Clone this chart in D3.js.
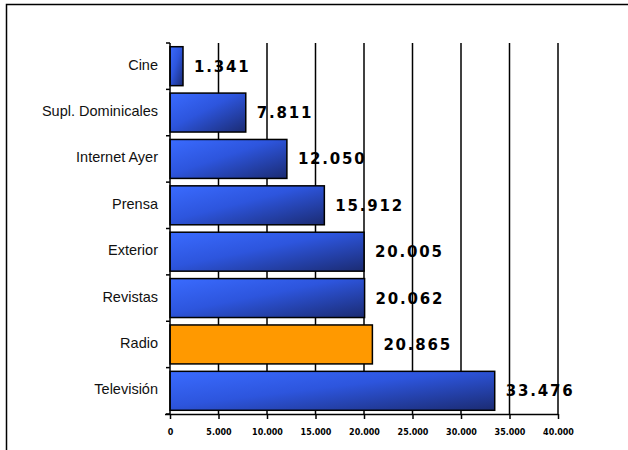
<!DOCTYPE html>
<html>
<head>
<meta charset="utf-8">
<script src="https://cdn.jsdelivr.net/npm/d3@7"></script>
<style>
  body { margin: 0; background: #fff; }
  svg { display: block; }
</style>
</head>
<body>
<svg id="chart" width="628" height="450"></svg>
<script>
// data
const categories = ["Cine", "Supl. Dominicales", "Internet Ayer", "Prensa", "Exterior", "Revistas", "Radio", "Televisión"]
const values = [1341, 7811, 12050, 15912, 20005, 20062, 20865, 33476]
const highlighted = ["Radio"]
const xTicks = [0, 5000, 10000, 15000, 20000, 25000, 30000, 35000, 40000]

const width = 628
const height = 450
const margin = { top: 43, left: 170, right: 70, bottom: 36 }

const svg = d3.select("#chart")

// outer frame (cut at the right and bottom like the original)
svg.append("rect")
	.attr("x", 6.5).attr("y", 4.5)
	.attr("width", 700).attr("height", 500)
	.style("fill", "none")
	.style("stroke", "#000")
	.style("stroke-width", 1.5)

const defs = svg.append("defs")
const grad = defs.append("linearGradient")
	.attr("id", "blue")
	.attr("x1", 0).attr("y1", 0)
	.attr("x2", 1).attr("y2", 1)
grad.append("stop").attr("offset", "0%").attr("stop-color", "#3a6bff")
grad.append("stop").attr("offset", "45%").attr("stop-color", "#2d55dd")
grad.append("stop").attr("offset", "100%").attr("stop-color", "#1b2b72")

const x = d3.scaleLinear()
	.domain([0, 40000])
	.range([margin.left, 558])

const y = d3.scaleBand()
	.domain(categories)
	.range([margin.top, height - margin.bottom])
	.paddingInner(0.16)
	.paddingOuter(0.08)

const fmt = (v) => d3.format(",")(v).replace(/,/g, ".")

// vertical grid lines
svg.append("g")
	.selectAll("line")
	.data(xTicks.slice(1))
	.enter()
	.append("line")
	.attr("x1", (d) => x(d)).attr("x2", (d) => x(d))
	.attr("y1", margin.top).attr("y2", height - margin.bottom)
	.style("stroke", "#000")
	.style("stroke-width", 1.5)

// bars
svg.append("g")
	.selectAll("rect")
	.data(categories)
	.enter()
	.append("rect")
	.attr("x", x(0))
	.attr("y", (d) => y(d))
	.attr("width", (d, i) => x(values[i]) - x(0))
	.attr("height", y.bandwidth())
	.style("fill", (d) => highlighted.includes(d) ? "#ff9900" : "url(#blue)")
	.style("stroke", "#000")
	.style("stroke-width", 1.5)

// x axis
const xAxis = svg.append("g")
	.attr("transform", `translate(0,${height - margin.bottom})`)
	.call(d3.axisBottom(x).tickValues(xTicks).tickSize(5).tickPadding(10).tickFormat(fmt))
xAxis.select(".domain")
	.attr("d", `M${x(0) - 5},0.5H${x(40000)}`)
	.style("stroke-width", 1.5)
xAxis.selectAll(".tick line").style("stroke-width", 1.5)
xAxis.selectAll("text")
	.style("font-family", "DejaVu Sans, Verdana, sans-serif")
	.style("font-size", "8px")
	.style("font-weight", "bold")
	.style("fill", "#000")

// y axis: ticks sit on the band edges
const yAxis = svg.append("g")
	.attr("transform", `translate(${x(0)},0)`)
yAxis.append("line")
	.attr("x1", 0).attr("x2", 0)
	.attr("y1", margin.top).attr("y2", height - margin.bottom)
	.style("stroke", "#000")
	.style("stroke-width", 1.5)
const edges = categories.map((c) => y(c) - y.step() * y.paddingInner() / 2)
edges.push(height - margin.bottom)
edges[0] = margin.top
yAxis.selectAll(".edge")
	.data(edges)
	.enter()
	.append("line")
	.attr("x1", -4).attr("x2", 0)
	.attr("y1", (d) => d).attr("y2", (d) => d)
	.style("stroke", "#000")
	.style("stroke-width", 1.5)

yAxis.selectAll(".cat")
	.data(categories)
	.enter()
	.append("text")
	.attr("x", -12)
	.attr("y", (d) => y(d) + y.bandwidth() / 2 + 3.5)
	.attr("text-anchor", "end")
	.text((d) => d)
	.style("font-family", "Liberation Sans, Arial, sans-serif")
	.style("font-size", "14.5px")
	.style("fill", "#111")

// value labels
svg.append("g")
	.selectAll("text")
	.data(categories)
	.enter()
	.append("text")
	.attr("x", (d, i) => x(values[i]) + 11)
	.attr("y", (d) => y(d) + y.bandwidth() / 2 + 5.5)
	.text((d, i) => fmt(values[i]))
	.style("font-family", "DejaVu Sans, Verdana, sans-serif")
	.style("font-size", "15px")
	.style("font-weight", "bold")
	.style("letter-spacing", "1.8px")
	.style("fill", "#000")
</script>
</body>
</html>
